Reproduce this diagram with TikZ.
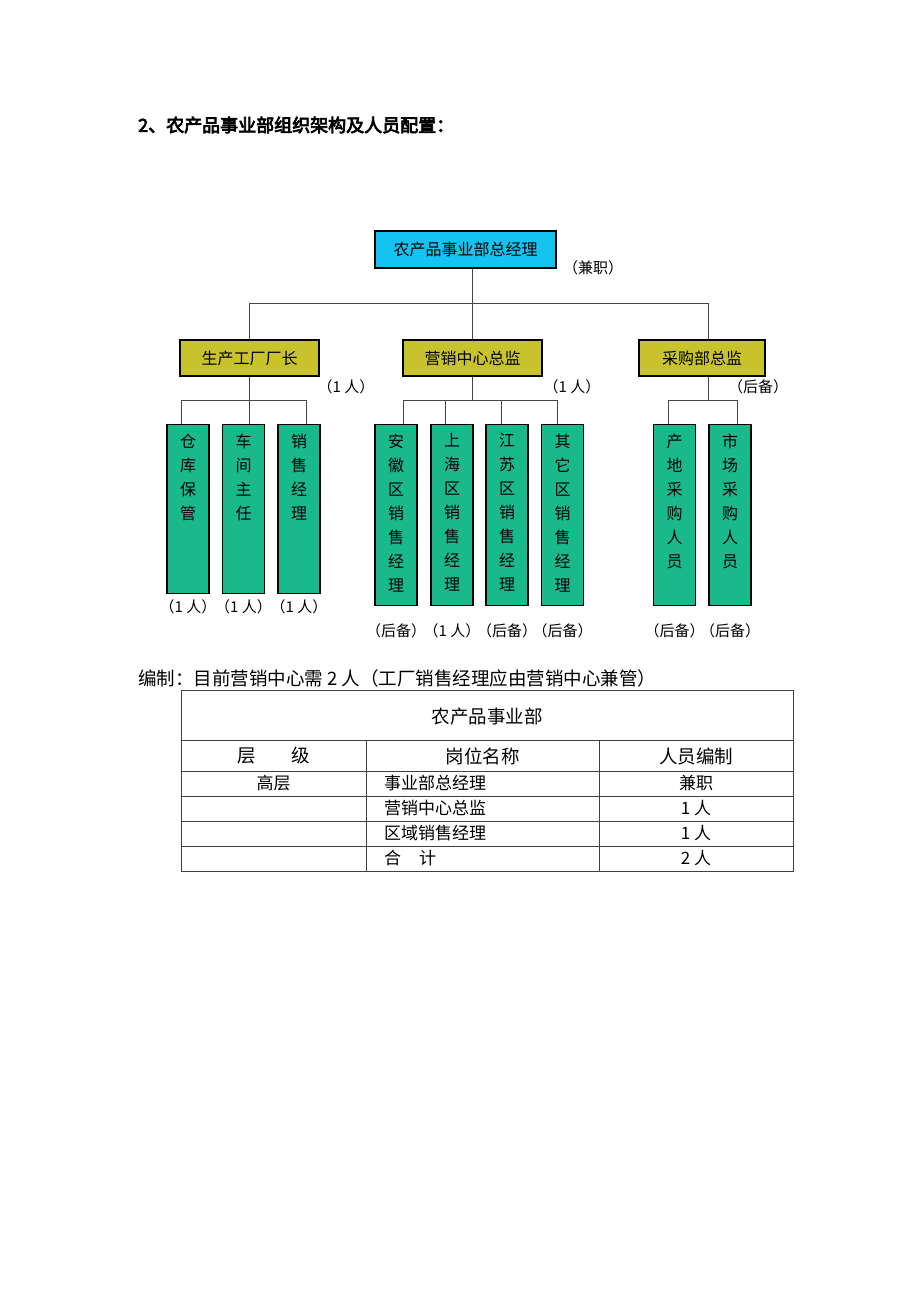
\documentclass[tikz,border=0pt]{standalone}
\usepackage{fontspec}
\setmainfont{Noto Sans CJK SC}
\newfontfamily\titlefont{Noto Sans CJK SC}[FakeBold=4]

\definecolor{gmblue}{RGB}{20,195,240}
\definecolor{headolive}{RGB}{200,195,45}
\definecolor{staffgreen}{RGB}{25,185,140}
\definecolor{linegray}{RGB}{70,70,70}

\newcommand\stack[2]{\parbox[c][#1pt][t]{40pt}{\centering\vspace*{9pt}#2}}

\tikzset{
  box/.style={draw=black,line width=1.2pt,inner sep=0pt,font=\fontsize{16}{18}\selectfont},
  gmbox/.style={box,fill=gmblue,minimum width=181pt,minimum height=37pt},
  headbox/.style={box,fill=headolive,minimum height=36pt},
  staffbox/.style={box,fill=staffgreen,minimum width=42pt,anchor=north,font=\fontsize{16}{24}\selectfont},
  conn/.style={draw=linegray,line width=1pt},
  tag/.style={font=\fontsize{15}{17}\selectfont,inner sep=0pt},
  cell/.style={font=\fontsize{17}{20}\selectfont,inner sep=0pt},
  headcell/.style={font=\fontsize{18.5}{20}\selectfont,inner sep=0pt},
  tabline/.style={draw=black!75,line width=0.8pt}
}

\begin{document}
\begin{tikzpicture}[x=1pt,y=-1pt]
    \useasboundingbox (0,0) rectangle (920,1302);

    \node[anchor=west,inner sep=0pt,font=\titlefont\fontsize{18}{20}\selectfont] (title) at (138,125) {2、农产品事业部组织架构及人员配置：};

    \node[gmbox] (gm) at (465.5,249.5) {农产品事业部总经理};
    \node[headbox,minimum width=139pt] (fac) at (249.5,358) {生产工厂厂长};
    \node[headbox,minimum width=139pt] (mkt) at (472.5,358) {营销中心总监};
    \node[headbox,minimum width=126pt] (pur) at (702,358) {采购部总监};

    \draw[conn] (gm.south -| mkt.north) -- (mkt.north);
    \draw[conn] (fac.north) -- ++(0,-36) -| ([xshift=6]pur.north);

    \node[tag] (gmnote) at (593,268) {（兼职）};
    \node[tag] (facnote) at (346,387) {（1 人）};
    \node[tag] (mktnote) at (572,387) {（1 人）};
    \node[tag] (purnote) at (758,387) {（后备）};

    \node[staffbox] (f1) at (188,424) {\stack{169}{仓\\库\\保\\管}};
    \node[staffbox] (f2) at (243.5,424) {\stack{169}{车\\间\\主\\任}};
    \node[staffbox] (f3) at (299,424) {\stack{169}{销\\售\\经\\理}};
    \draw[conn] (fac.south) -- ++(0,24) coordinate (fbus);
    \draw[conn] ([xshift=-7]f1.north) -- ++(0,-24) -| ([xshift=7]f3.north);
    \draw[conn] (fbus) -- (fbus |- f2.north);

    \node[staffbox] (m1) at (396,424) {\stack{181}{安\\徽\\区\\销\\售\\经\\理}};
    \node[staffbox] (m2) at (452,424) {\stack{181}{上\\海\\区\\销\\售\\经\\理}};
    \node[staffbox] (m3) at (507,424) {\stack{181}{江\\苏\\区\\销\\售\\经\\理}};
    \node[staffbox] (m4) at (562.5,424) {\stack{181}{其\\它\\区\\销\\售\\经\\理}};
    \draw[conn] (mkt.south) -- ++(0,24) coordinate (mbus);
    \draw[conn] ([xshift=7]m1.north) -- ++(0,-24) -| ([xshift=-5.5]m4.north);
    \draw[conn] ([xshift=-7]m2.north) -- ++(0,-24);
    \draw[conn] ([xshift=-6]m3.north) -- ++(0,-24);

    \node[staffbox] (p1) at (674.5,424) {\stack{181}{产\\地\\采\\购\\人\\员}};
    \node[staffbox] (p2) at (730,424) {\stack{181}{市\\场\\采\\购\\人\\员}};
    \draw[conn] ([xshift=6]pur.south) -- ++(0,24) coordinate (pbus);
    \draw[conn] ([xshift=-6.5]p1.north) -- ++(0,-24) -| ([xshift=7]p2.north);

    \node[tag] (f1n) at ([yshift=-13]f1.south) {（1 人）};
    \node[tag] (f2n) at ([yshift=-13]f2.south) {（1 人）};
    \node[tag] (f3n) at ([yshift=-13]f3.south) {（1 人）};
    \node[tag] (m1n) at ([yshift=-25]m1.south) {（后备）};
    \node[tag] (m2n) at ([yshift=-25]m2.south) {（1 人）};
    \node[tag] (m3n) at ([yshift=-25]m3.south) {（后备）};
    \node[tag] (m4n) at ([yshift=-25]m4.south) {（后备）};
    \node[tag] (p1n) at ([yshift=-25]p1.south) {（后备）};
    \node[tag] (p2n) at ([yshift=-25]p2.south) {（后备）};

    \node[anchor=west,inner sep=0pt,font=\fontsize{18.5}{20}\selectfont] (note) at (138,678) {编制：目前营销中心需 2 人（工厂销售经理应由营销中心兼管）};

    \draw[tabline] (181,690) rectangle (793,871);
    \foreach \y in {740,771,796,821,846}
        \draw[tabline] (181,\y) -- (793,\y);
    \foreach \x in {366,599}
        \draw[tabline] (\x,740) -- (\x,871);

    \node[headcell] (tabtitle) at (487,716) {农产品事业部};
    \node[headcell] (h1) at (273.5,756) {层\hspace{36pt}级};
    \node[headcell] (h2) at (482.5,756) {岗位名称};
    \node[headcell] (h3) at (696,756) {人员编制};
    \node[cell] (r1a) at (273.5,783.5) {高层};
    \node[cell,anchor=west] (r1b) at (384,783.5) {事业部总经理};
    \node[cell] (r1c) at (696,783.5) {兼职};
    \node[cell,anchor=west] (r2b) at (384,808.5) {营销中心总监};
    \node[cell] (r2c) at (696,808.5) {1 人};
    \node[cell,anchor=west] (r3b) at (384,833.5) {区域销售经理};
    \node[cell] (r3c) at (696,833.5) {1 人};
    \node[cell,anchor=west] (r4b) at (384,858.5) {合\hspace{18pt}计};
    \node[cell] (r4c) at (696,858.5) {2 人};
\end{tikzpicture}
\end{document}
